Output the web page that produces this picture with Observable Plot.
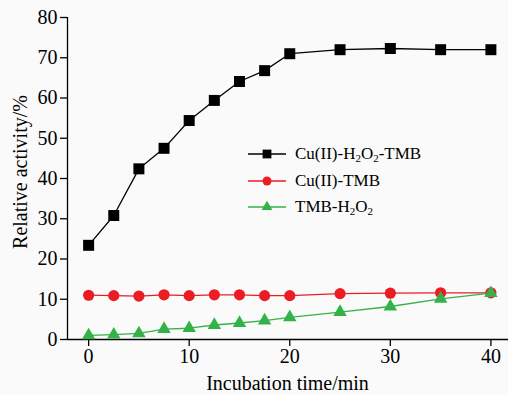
<!DOCTYPE html>
<html><head>
<meta charset="utf-8">
<script src="https://cdn.jsdelivr.net/npm/d3@7"></script>
<script src="https://cdn.jsdelivr.net/npm/@observablehq/plot@0.6"></script>
<style>
  html,body{margin:0;padding:0;background:#fafafa;}
  #wrap{position:relative;width:508px;height:395px;font-family:"Liberation Serif","Times New Roman",serif;color:#000;}
  #legend{position:absolute;left:248px;top:141px;font-size:17px;}
  .row{display:flex;align-items:center;height:26.5px;}
  .row svg{margin-right:9px;}
  sub{font-size:11px;vertical-align:-3px;line-height:0;}
  #xtitle{position:absolute;left:67px;width:441px;top:371px;text-align:center;font-size:20px;line-height:24px;}
  #ytitle{position:absolute;left:20px;top:172px;font-size:20px;line-height:24px;white-space:nowrap;transform:translate(-50%,-50%) rotate(-90deg);}
</style>
</head><body>
<div id="wrap"><div id="chart"></div><div id="legend"></div><div id="xtitle"></div><div id="ytitle"></div></div>
<script>
const times = [0, 2.5, 5, 7.5, 10, 12.5, 15, 17.5, 20, 25, 30, 35, 40];
const cuH2O2TMB = [23.4, 30.8, 42.4, 47.5, 54.4, 59.4, 64.1, 66.8, 71.0, 72.0, 72.3, 72.0, 72.0];
const cuTMB = [11.0, 10.9, 10.8, 11.1, 10.9, 11.1, 11.1, 10.9, 10.9, 11.4, 11.5, 11.6, 11.6];
const tmbH2O2 = [1.0, 1.2, 1.5, 2.6, 2.8, 3.6, 4.1, 4.7, 5.5, 6.8, 8.2, 10.1, 11.5];
const seriesNames = ["Cu(II)-H2O2-TMB", "Cu(II)-TMB", "TMB-H2O2"];
const seriesLabelsHtml = ["Cu(II)-H<sub>2</sub>O<sub>2</sub>-TMB", "Cu(II)-TMB", "TMB-H<sub>2</sub>O<sub>2</sub>"];
const seriesColors = ["#000000", "#ec1c24", "#34b24a"];
const seriesSymbols = ["square", "circle", "triangle"];
const seriesR = [6.2, 5.6, 5.0];
const xTicks = [0, 10, 20, 30, 40];
const yTicks = [0, 10, 20, 30, 40, 50, 60, 70, 80];
const xTitle = "Incubation time/min";
const yTitle = "Relative activity/%";

const allSeries = [cuH2O2TMB, cuTMB, tmbH2O2];
const rows = [];
allSeries.forEach((vals, si) => vals.forEach((v, i) => rows.push({series: seriesNames[si], si, t: times[i], v})));

const font = '"Liberation Serif","Times New Roman",serif';
const marks = [
  Plot.axisX({ticks: xTicks, tickSize: 7, tickPadding: 2, fontSize: 20, label: null, strokeWidth: 1.3}),
  Plot.axisY({ticks: yTicks, tickSize: 7, tickPadding: 3, fontSize: 20, label: null, strokeWidth: 1.3}),
  Plot.ruleX([-2.1], {stroke: "#000", strokeWidth: 1.3}),
  Plot.ruleY([0], {stroke: "#000", strokeWidth: 1.3})
];
seriesNames.forEach((name, si) => {
  const d = rows.filter(r => r.si === si);
  marks.push(Plot.line(d, {x: "t", y: "v", stroke: seriesColors[si], strokeWidth: 1.3}));
});
seriesNames.forEach((name, si) => {
  const d = rows.filter(r => r.si === si);
  marks.push(Plot.dot(d, {x: "t", y: "v", symbol: seriesSymbols[si], r: seriesR[si], fill: seriesColors[si], stroke: "none"}));
});

const plot = Plot.plot({
  width: 508, height: 395,
  marginLeft: 67, marginRight: 0, marginTop: 17, marginBottom: 56,
  style: {background: "transparent", fontFamily: font, color: "#000", overflow: "visible"},
  x: {domain: [-2.1, 41.75]},
  y: {domain: [0, 80]},
  marks: marks
});
document.getElementById("chart").appendChild(plot);
document.getElementById("xtitle").textContent = xTitle;
document.getElementById("ytitle").textContent = yTitle;

const leg = document.getElementById("legend");
seriesNames.forEach((name, si) => {
  const row = document.createElement("div");
  row.className = "row";
  const sym = d3.symbol(si === 0 ? d3.symbolSquare : si === 1 ? d3.symbolCircle : d3.symbolTriangle, Math.PI * Math.pow(seriesR[si] * 0.8, 2))();
  row.innerHTML = `<svg width="38" height="14"><line x1="0" x2="38" y1="7" y2="7" stroke="${seriesColors[si]}" stroke-width="1.3"/><path transform="translate(19,7)" d="${sym}" fill="${seriesColors[si]}"/></svg><span>${seriesLabelsHtml[si]}</span>`;
  leg.appendChild(row);
});
</script>
</body></html>
